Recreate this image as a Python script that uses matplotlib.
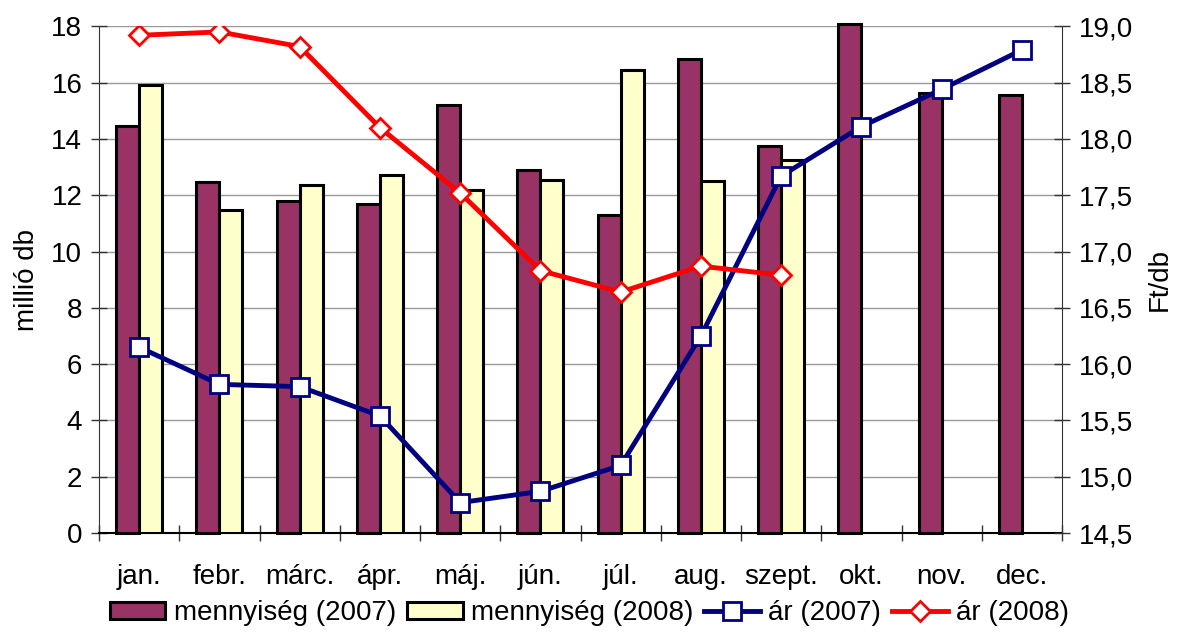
import numpy as np
import matplotlib.pyplot as plt
from matplotlib.ticker import FuncFormatter, MultipleLocator

plt.rcParams['font.family'] = ['Liberation Sans', 'DejaVu Sans']

months = ['jan.', 'febr.', 'márc.', 'ápr.', 'máj.', 'jún.', 'júl.',
          'aug.', 'szept.', 'okt.', 'nov.', 'dec.']
qty_2007 = [14.45, 12.48, 11.8, 11.7, 15.19, 12.89, 11.29, 16.85, 13.75, 18.07, 15.64, 15.55]
qty_2008 = [15.9, 11.49, 12.35, 12.7, 12.18, 12.53, 16.46, 12.5, 13.24]
price_2007 = [16.15, 15.82, 15.80, 15.54, 14.77, 14.87, 15.10, 16.25, 17.67, 18.11, 18.44, 18.79]
price_2008 = [18.92, 18.95, 18.82, 18.10, 17.52, 16.83, 16.64, 16.87, 16.79]

fs = 20
fig = plt.figure(figsize=(11.79, 6.35), dpi=100)
ax = fig.add_axes([0.084, 0.1606, 0.8168, 0.798])

x = np.arange(len(months))
x8 = np.arange(len(qty_2008))
w = 0.286
b1 = ax.bar(x - w/2, qty_2007, w, color='#993366', edgecolor='black', lw=2.2,
            label='mennyiség (2007)', zorder=3, clip_on=False)
b2 = ax.bar(x8 + w/2, qty_2008, w, color='#FFFFCC', edgecolor='black', lw=2.2,
            label='mennyiség (2008)', zorder=3)

ax.set_xlim(-0.5, 11.5)
ax.set_ylim(0, 18)
ax.yaxis.set_major_locator(MultipleLocator(2))
ax.set_xticks(x)
ax.set_xticklabels(months, fontsize=fs)
ax.set_xticks(np.arange(-0.5, 12, 1), minor=True)
ax.tick_params(axis='x', which='major', length=0, pad=22)
ax.tick_params(axis='x', which='minor', direction='inout', length=12, width=1, color='#333333')
ax.tick_params(axis='y', direction='inout', length=12, width=1, color='#333333', labelsize=fs, pad=6)
ax.grid(axis='y', color='#999999', lw=1, zorder=0)
ax.set_axisbelow(True)
ax.spines['top'].set_visible(False)
ax.spines['right'].set_visible(False)
ax.spines['left'].set_color('#333333')
ax.spines['bottom'].set_color('black')
ax.spines['bottom'].set_linewidth(1.5)
ax.set_ylabel('millió db', fontsize=fs, labelpad=8)

ax2 = ax.twinx()
l1, = ax2.plot(x, price_2007, color='#000080', lw=3.5, marker='s', ms=13,
               mfc='white', mec='#000080', mew=2, label='ár (2007)')
l2, = ax2.plot(x8, price_2008, color='#FF0000', lw=3.5, marker='D', ms=10,
               mfc='white', mec='#FF0000', mew=2, label='ár (2008)')
ax2.set_ylim(14.5, 19.0)
ax2.yaxis.set_major_locator(MultipleLocator(0.5))
ax2.yaxis.set_major_formatter(FuncFormatter(lambda v, p: f'{v:.1f}'.replace('.', ',')))
ax2.tick_params(axis='y', direction='inout', length=12, width=1, color='#333333', labelsize=fs, pad=6)
for s in ['top', 'left', 'bottom']:
    ax2.spines[s].set_visible(False)
ax2.spines['right'].set_color('#333333')
ax2.set_ylabel('Ft/db', fontsize=fs, labelpad=10)

fig.legend([b1, b2, l1, l2],
           ['mennyiség (2007)', 'mennyiség (2008)', 'ár (2007)', 'ár (2008)'],
           loc='center', bbox_to_anchor=(0.5, 0.034), ncol=4, frameon=False,
           fontsize=fs, handlelength=2.0, handleheight=0.55, handletextpad=0.3,
           columnspacing=0.4, borderpad=0)

plt.savefig('out.png', dpi=100)
